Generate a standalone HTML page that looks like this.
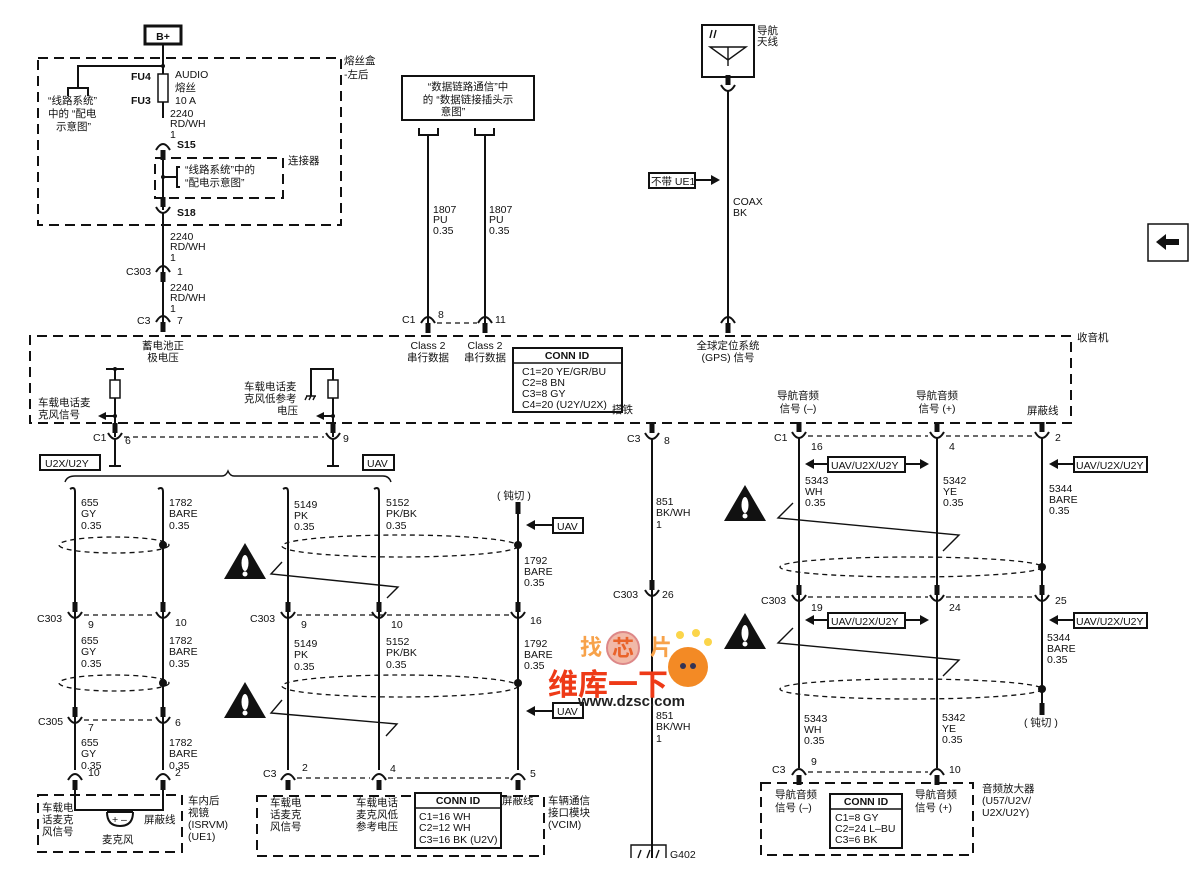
<!DOCTYPE html>
<html><head><meta charset="utf-8"><style>
html,body{margin:0;padding:0;background:#fff}
svg{display:block}
text{font-family:"Liberation Sans","Noto Sans CJK SC",sans-serif;font-size:10.5px;fill:#111}
.d{stroke:#111;stroke-width:2;fill:none;stroke-dasharray:10 6}
.s{stroke:#111;stroke-width:1.3;fill:none;stroke-dasharray:5 4}
.w{stroke:#111;stroke-width:2;fill:none}
.t{stroke:#111;stroke-width:1.4;fill:none}
.bx{stroke:#111;stroke-width:2;fill:#fff}
</style></head><body>
<svg width="1200" height="884" viewBox="0 0 1200 884" xmlns="http://www.w3.org/2000/svg">
<defs>
<g id="cup"><path d="M-7,-5 Q0,7 7,-5" class="w"/><rect x="-2.5" y="-15" width="5" height="10" fill="#111"/></g>
<g id="cap"><path d="M-7,5 Q0,-7 7,5" class="w"/><rect x="-2.5" y="5" width="5" height="10" fill="#111"/></g>
<g id="warn"><path d="M0,0 L21,36 L-21,36Z" fill="#111"/><ellipse cx="0" cy="20" rx="3.5" ry="8" fill="#fff"/><circle cx="0" cy="31" r="2.5" fill="#fff"/></g>
</defs>

<!-- B+ -->
<rect x="145" y="26" width="36" height="18" fill="#fff" stroke="#111" stroke-width="3"/>
<text x="163" y="40" text-anchor="middle" font-weight="bold">B+</text>
<!-- fuse box -->
<path d="M38,58 H341 V225 H38 Z" class="d"/>
<text x="344" y="64">熔丝盒</text><text x="344" y="78">-左后</text>
<line x1="163" y1="44" x2="163" y2="118" class="w"/>
<circle cx="163" cy="66" r="2" fill="#111"/>
<path d="M163,66 H78 V88" class="w"/><path d="M68,96 V88 H88 V96" class="w"/>
<text x="48" y="104">“线路系统”</text><text x="48" y="117">中的 “配电</text><text x="56" y="130">示意图”</text>
<rect x="158" y="74" width="10" height="28" fill="#fff" stroke="#111" stroke-width="1.5"/>
<text x="131" y="80" font-weight="bold">FU4</text><text x="131" y="104" font-weight="bold">FU3</text>
<text x="175" y="78">AUDIO</text><text x="175" y="91">熔丝</text><text x="175" y="104">10 A</text>
<text x="170" y="117">2240</text><text x="170" y="127">RD/WH</text><text x="170" y="138">1</text>
<use href="#cap" x="163" y="145"/><text x="177" y="148" font-weight="bold">S15</text>
<path d="M155,158 H283 V198 H155 Z" class="d"/><text x="288" y="164">连接器</text>
<line x1="163" y1="158" x2="163" y2="210" class="w"/>
<circle cx="163" cy="177" r="2" fill="#111"/><path d="M163,177 H177 M180,167 H177 V187 H180" class="w"/>
<text x="185" y="173">“线路系统”中的</text><text x="185" y="186">“配电示意图”</text>
<use href="#cup" x="163" y="212"/><text x="177" y="216" font-weight="bold">S18</text>
<line x1="163" y1="212" x2="163" y2="330" class="w"/>
<text x="170" y="240">2240</text><text x="170" y="250">RD/WH</text><text x="170" y="261">1</text>
<use href="#cap" x="163" y="267"/><text x="126" y="275">C303</text><text x="177" y="275">1</text>
<text x="170" y="291">2240</text><text x="170" y="301">RD/WH</text><text x="170" y="312">1</text>
<use href="#cap" x="163" y="317"/><text x="137" y="324">C3</text><text x="177" y="324">7</text>

<!-- data link -->
<rect x="402" y="76" width="132" height="44" class="bx"/>
<text x="468" y="90" text-anchor="middle">“数据链路通信”中</text><text x="468" y="103" text-anchor="middle">的 “数据链接插头示</text><text x="453" y="115" text-anchor="middle">意图”</text>
<path d="M419,128 V135 H438 V128 M475,128 V135 H494 V128" class="w"/>
<line x1="428" y1="135" x2="428" y2="330" class="w"/><line x1="485" y1="135" x2="485" y2="330" class="w"/>
<text x="433" y="213">1807</text><text x="433" y="223">PU</text><text x="433" y="234">0.35</text>
<text x="489" y="213">1807</text><text x="489" y="223">PU</text><text x="489" y="234">0.35</text>
<use href="#cap" x="428" y="318"/><use href="#cap" x="485" y="318"/>
<line x1="437" y1="323" x2="477" y2="323" class="s"/>
<text x="402" y="323">C1</text><text x="438" y="318">8</text><text x="495" y="323">11</text>

<!-- antenna -->
<rect x="702" y="25" width="52" height="52" class="bx"/>
<path d="M710,47 L746,47 L728,60 Z M728,47 V66" class="t"/>
<path d="M712,30 l-2,8 M716,30 l-2,8" class="t"/>
<text x="757" y="34">导航</text><text x="757" y="45">天线</text>
<use href="#cup" x="728" y="90"/>
<line x1="728" y1="90" x2="728" y2="330" class="w"/>
<rect x="649" y="173" width="46" height="15" class="bx" stroke-width="1.5"/><text x="651" y="185">不带 UE1</text>
<path d="M695,180 H712" class="w"/><path d="M720,180 L711,175 L711,185Z" fill="#111"/>
<text x="733" y="205">COAX</text><text x="733" y="216">BK</text>
<use href="#cap" x="728" y="318"/>

<!-- radio box -->
<path d="M1071,336 H30 V423 H1071 Z" class="d"/>
<text x="1077" y="341">收音机</text>
<text x="163" y="349" text-anchor="middle">蓄电池正</text><text x="163" y="361" text-anchor="middle">极电压</text>
<text x="428" y="349" text-anchor="middle">Class 2</text><text x="428" y="361" text-anchor="middle">串行数据</text>
<text x="485" y="349" text-anchor="middle">Class 2</text><text x="485" y="361" text-anchor="middle">串行数据</text>
<text x="728" y="349" text-anchor="middle">全球定位系统</text><text x="728" y="361" text-anchor="middle">(GPS) 信号</text>
<rect x="513" y="348" width="109" height="64" class="bx"/><line x1="513" y1="363" x2="622" y2="363" stroke="#111" stroke-width="1.5"/>
<text x="567" y="359" text-anchor="middle" font-weight="bold">CONN ID</text>
<text x="522" y="375">C1=20 YE/GR/BU</text><text x="522" y="386">C2=8 BN</text><text x="522" y="397">C3=8 GY</text><text x="522" y="408">C4=20 (U2Y/U2X)</text>
<!-- mic circuits in radio -->
<path d="M106,369 H124 M115,369 V380 M115,398 V437" class="w"/><circle cx="115" cy="369" r="2" fill="#111"/>
<rect x="110" y="380" width="10" height="18" fill="#fff" stroke="#111" stroke-width="1.5"/>
<circle cx="115" cy="416" r="2" fill="#111"/><path d="M115,416 H104" class="w"/><path d="M98,416 L106,412 L106,420Z" fill="#111"/>
<text x="38" y="406">车载电话麦</text><text x="38" y="418">克风信号</text>
<path d="M311,396 V369 H333 V380 M333,398 V437" class="w"/>
<path d="M306,396 H316 M307,396 l-2,4 M311,396 l-2,4 M315,396 l-2,4" class="t"/>
<rect x="328" y="380" width="10" height="18" fill="#fff" stroke="#111" stroke-width="1.5"/>
<circle cx="333" cy="416" r="2" fill="#111"/><path d="M333,416 H322" class="w"/><path d="M316,416 L324,412 L324,420Z" fill="#111"/>
<text x="244" y="390">车载电话麦</text><text x="244" y="402">克风低参考</text><text x="277" y="414">电压</text>
<text x="612" y="413">搭铁</text>
<text x="798" y="399" text-anchor="middle">导航音频</text><text x="798" y="412" text-anchor="middle">信号 (–)</text>
<text x="937" y="399" text-anchor="middle">导航音频</text><text x="937" y="412" text-anchor="middle">信号 (+)</text>
<text x="1027" y="414">屏蔽线</text>

<!-- left C1 -->
<use href="#cup" x="115" y="438"/><use href="#cup" x="333" y="438"/>
<line x1="124" y1="437" x2="324" y2="437" class="s"/>
<text x="93" y="441">C1</text><text x="125" y="444">6</text><text x="343" y="442">9</text>
<path d="M115,438 V466 M109,466 H121 M333,438 V466 M327,466 H339" class="w"/>
<rect x="40" y="455" width="60" height="15" class="bx" stroke-width="1.5"/><text x="45" y="467">U2X/U2Y</text>
<rect x="363" y="455" width="31" height="15" class="bx" stroke-width="1.5"/><text x="367" y="467">UAV</text>
<path d="M65,482 Q67,476 75,476 H222 Q226,476 228,471 Q230,476 234,476 H383 Q389,476 391,482" class="t"/>

<!-- left wires -->
<g class="w">
<path d="M70,489 Q75,486 75,492 V770"/><path d="M158,489 Q163,486 163,492 V770"/>
<path d="M283,489 Q288,486 288,492 V770"/><path d="M374,489 Q379,486 379,492 V770"/>
<path d="M518,503 V770"/>
</g>
<rect x="515.5" y="502" width="5" height="12" fill="#111"/>
<text x="497" y="499">( 钝切 )</text>
<path d="M534,525 H552" class="w"/><path d="M526,525 L535,520 L535,530Z" fill="#111"/>
<rect x="553" y="518" width="30" height="15" class="bx" stroke-width="1.5"/><text x="557" y="530">UAV</text>
<path d="M534,711 H552" class="w"/><path d="M526,711 L535,706 L535,716Z" fill="#111"/>
<rect x="553" y="703" width="30" height="15" class="bx" stroke-width="1.5"/><text x="557" y="715">UAV</text>

<g>
<text x="81" y="506">655</text><text x="81" y="517">GY</text><text x="81" y="529">0.35</text>
<text x="169" y="506">1782</text><text x="169" y="517">BARE</text><text x="169" y="529">0.35</text>
<text x="294" y="508">5149</text><text x="294" y="519">PK</text><text x="294" y="530">0.35</text>
<text x="386" y="506">5152</text><text x="386" y="517">PK/BK</text><text x="386" y="529">0.35</text>
<text x="524" y="564">1792</text><text x="524" y="575">BARE</text><text x="524" y="586">0.35</text>
</g>
<ellipse cx="114" cy="545" rx="55" ry="8" class="s"/>
<ellipse cx="400" cy="546" rx="118" ry="11" class="s"/>
<circle cx="163" cy="545" r="4" fill="#111"/><circle cx="518" cy="545" r="4" fill="#111"/>
<use href="#warn" x="245" y="543"/>
<path d="M282,562 L271,574 L398,587 L387,598" class="t"/>

<!-- C303 left -->
<g><use href="#cup" x="75" y="617"/><use href="#cup" x="163" y="617"/><use href="#cup" x="288" y="617"/><use href="#cup" x="379" y="617"/><use href="#cup" x="518" y="617"/></g>
<line x1="84" y1="615" x2="154" y2="615" class="s"/><line x1="297" y1="615" x2="510" y2="615" class="s"/>
<text x="37" y="622">C303</text><text x="88" y="628">9</text><text x="175" y="626">10</text>
<text x="250" y="622">C303</text><text x="301" y="628">9</text><text x="391" y="628">10</text><text x="530" y="624">16</text>
<text x="81" y="644">655</text><text x="81" y="655">GY</text><text x="81" y="667">0.35</text>
<text x="169" y="644">1782</text><text x="169" y="655">BARE</text><text x="169" y="667">0.35</text>
<text x="294" y="647">5149</text><text x="294" y="658">PK</text><text x="294" y="670">0.35</text>
<text x="386" y="645">5152</text><text x="386" y="656">PK/BK</text><text x="386" y="668">0.35</text>
<text x="524" y="647">1792</text><text x="524" y="658">BARE</text><text x="524" y="669">0.35</text>
<ellipse cx="114" cy="683" rx="55" ry="8" class="s"/>
<ellipse cx="400" cy="686" rx="118" ry="11" class="s"/>
<circle cx="163" cy="683" r="4" fill="#111"/><circle cx="518" cy="683" r="4" fill="#111"/>
<use href="#warn" x="245" y="682"/>
<path d="M282,700 L271,713 L397,724 L386,736" class="t"/>
<!-- C305 -->
<use href="#cup" x="75" y="722"/><use href="#cup" x="163" y="722"/>
<line x1="84" y1="720" x2="154" y2="720" class="s"/>
<text x="38" y="725">C305</text><text x="88" y="731">7</text><text x="175" y="726">6</text>
<text x="81" y="746">655</text><text x="81" y="757">GY</text><text x="81" y="769">0.35</text>
<text x="169" y="746">1782</text><text x="169" y="757">BARE</text><text x="169" y="769">0.35</text>
<!-- C3 left -->
<use href="#cap" x="75" y="775"/><use href="#cap" x="163" y="775"/>
<use href="#cap" x="288" y="775"/><use href="#cap" x="379" y="775"/><use href="#cap" x="518" y="775"/>
<text x="88" y="776">10</text><text x="175" y="776">2</text>
<text x="263" y="777">C3</text><text x="302" y="771">2</text><text x="390" y="772">4</text><text x="530" y="777">5</text>
<line x1="297" y1="778" x2="370" y2="778" class="s"/><line x1="388" y1="778" x2="509" y2="778" class="s"/>
<!-- ISRVM box -->
<path d="M38,795 H182 V852 H38 Z" class="d"/>
<path d="M75,790 V810 H124 M163,790 V810 H116" class="w"/>
<path d="M108,810 V812 H132 V810 M107,812 Q107,826 120,826 Q133,826 133,812" class="w"/>
<text x="112" y="823" font-size="8">+ –</text>
<text x="42" y="811">车载电</text><text x="42" y="823">话麦克</text><text x="42" y="835">风信号</text>
<text x="144" y="823">屏蔽线</text><text x="102" y="843">麦克风</text>
<text x="188" y="804">车内后</text><text x="188" y="816">视镜</text><text x="188" y="828">(ISRVM)</text><text x="188" y="840">(UE1)</text>
<!-- VCIM box -->
<path d="M257,796 H544 V856 H257 Z" class="d"/>
<text x="270" y="806">车载电</text><text x="270" y="818">话麦克</text><text x="270" y="830">风信号</text>
<text x="356" y="806">车载电话</text><text x="356" y="818">麦克风低</text><text x="356" y="830">参考电压</text>
<rect x="415" y="793" width="86" height="55" class="bx"/><line x1="415" y1="808" x2="501" y2="808" stroke="#111" stroke-width="1.5"/>
<text x="458" y="804" text-anchor="middle" font-weight="bold">CONN ID</text>
<text x="419" y="820">C1=16 WH</text><text x="419" y="831">C2=12 WH</text><text x="419" y="843">C3=16 BK (U2V)</text>
<text x="502" y="804">屏蔽线</text>
<text x="548" y="804">车辆通信</text><text x="548" y="816">接口模块</text><text x="548" y="828">(VCIM)</text>

<!-- ground -->
<use href="#cup" x="652" y="438"/><text x="627" y="442">C3</text><text x="664" y="444">8</text>
<line x1="652" y1="438" x2="652" y2="858" class="w"/>
<text x="656" y="505">851</text><text x="656" y="516">BK/WH</text><text x="656" y="528">1</text>
<use href="#cup" x="652" y="595"/><text x="613" y="598">C303</text><text x="662" y="598">26</text>
<text x="656" y="719">851</text><text x="656" y="730">BK/WH</text><text x="656" y="742">1</text>
<path d="M631,858 V845 H666 V858 M638,858 l3,-8 M647,858 l3,-8 M656,858 l3,-8" class="t"/>
<text x="670" y="858">G402</text>

<!-- right side -->
<g><use href="#cup" x="799" y="437"/><use href="#cup" x="937" y="437"/><use href="#cup" x="1042" y="437"/></g>
<line x1="808" y1="436" x2="928" y2="436" class="s"/><line x1="946" y1="436" x2="1033" y2="436" class="s"/>
<text x="774" y="441">C1</text><text x="811" y="450">16</text><text x="949" y="450">4</text><text x="1055" y="441">2</text>
<line x1="799" y1="437" x2="799" y2="768" class="w"/><line x1="937" y1="437" x2="937" y2="768" class="w"/><line x1="1042" y1="437" x2="1042" y2="705" class="w"/>
<rect x="1039.5" y="703" width="5" height="12" fill="#111"/><text x="1024" y="726">( 钝切 )</text>
<g id="bid">
<path d="M812,464 H828 M905,464 H922" class="w"/><path d="M805,464 L814,459 L814,469Z M929,464 L920,459 L920,469Z" fill="#111"/>
<rect x="828" y="457" width="77" height="15" class="bx" stroke-width="1.5"/><text x="831" y="469">UAV/U2X/U2Y</text>
</g>
<use href="#bid" x="0" y="156"/>
<path d="M1056,464 H1074" class="w"/><path d="M1049,464 L1058,459 L1058,469Z" fill="#111"/>
<rect x="1074" y="457" width="73" height="15" class="bx" stroke-width="1.5"/><text x="1076" y="469">UAV/U2X/U2Y</text>
<path d="M1056,620 H1074" class="w"/><path d="M1049,620 L1058,615 L1058,625Z" fill="#111"/>
<rect x="1074" y="613" width="73" height="15" class="bx" stroke-width="1.5"/><text x="1076" y="625">UAV/U2X/U2Y</text>
<text x="805" y="484">5343</text><text x="805" y="495">WH</text><text x="805" y="506">0.35</text>
<text x="943" y="484">5342</text><text x="943" y="495">YE</text><text x="943" y="506">0.35</text>
<text x="1049" y="492">5344</text><text x="1049" y="503">BARE</text><text x="1049" y="514">0.35</text>
<use href="#warn" x="745" y="485"/>
<path d="M793,503 L778,518 L959,535 L943,551" class="t"/>
<ellipse cx="911" cy="567" rx="131" ry="10" class="s"/><circle cx="1042" cy="567" r="4" fill="#111"/>
<g><use href="#cup" x="799" y="600"/><use href="#cup" x="937" y="600"/><use href="#cup" x="1042" y="600"/></g>
<line x1="808" y1="597" x2="928" y2="597" class="s"/><line x1="946" y1="597" x2="1033" y2="597" class="s"/>
<text x="761" y="604">C303</text><text x="811" y="611">19</text><text x="949" y="611">24</text><text x="1055" y="604">25</text>
<text x="1047" y="641">5344</text><text x="1047" y="652">BARE</text><text x="1047" y="663">0.35</text>
<use href="#warn" x="745" y="613"/>
<path d="M793,628 L778,643 L959,660 L943,676" class="t"/>
<ellipse cx="911" cy="689" rx="131" ry="10" class="s"/><circle cx="1042" cy="689" r="4" fill="#111"/>
<text x="804" y="722">5343</text><text x="804" y="733">WH</text><text x="804" y="744">0.35</text>
<text x="942" y="721">5342</text><text x="942" y="732">YE</text><text x="942" y="743">0.35</text>
<use href="#cap" x="799" y="770"/><use href="#cap" x="937" y="770"/>
<line x1="808" y1="772" x2="928" y2="772" class="s"/>
<text x="772" y="773">C3</text><text x="811" y="765">9</text><text x="949" y="773">10</text>
<path d="M761,783 H973 V855 H761 Z" class="d"/>
<text x="775" y="798">导航音频</text><text x="775" y="811">信号 (–)</text>
<text x="915" y="798">导航音频</text><text x="915" y="811">信号 (+)</text>
<rect x="830" y="794" width="72" height="54" class="bx"/><line x1="830" y1="809" x2="902" y2="809" stroke="#111" stroke-width="1.5"/>
<text x="866" y="805" text-anchor="middle" font-weight="bold">CONN ID</text>
<text x="835" y="821">C1=8 GY</text><text x="835" y="832">C2=24 L–BU</text><text x="835" y="843">C3=6 BK</text>
<text x="982" y="792">音频放大器</text><text x="982" y="804">(U57/U2V/</text><text x="982" y="816">U2X/U2Y)</text>

<!-- nav arrow button -->
<rect x="1148" y="224" width="40" height="37" fill="#fff" stroke="#111" stroke-width="1.5"/>
<path d="M1156,242 L1166,234 L1166,239 H1179 V245 H1166 V250 Z" fill="#111"/>

<!-- watermark -->
<text x="580" y="655" style="font-size:22px;font-weight:bold;fill:#f7a24a">找</text>
<circle cx="623" cy="648" r="16" fill="#f1b9a8" stroke="#d88" stroke-width="2"/>
<text x="612" y="656" style="font-size:22px;font-weight:bold;fill:#e9632b">芯</text>
<text x="650" y="655" style="font-size:22px;font-weight:bold;fill:#f7a24a">片</text>
<text x="548" y="695" style="font-size:30px;font-weight:bold;fill:#ee3a17">维库一下</text>
<text x="578" y="706" style="font-size:15px;font-weight:bold;fill:#222">www.dzsc.com</text>
<circle cx="688" cy="667" r="20" fill="#f38a25"/>
<circle cx="683" cy="666" r="3" fill="#335"/><circle cx="693" cy="666" r="3" fill="#335"/>
<circle cx="680" cy="635" r="4" fill="#fbd54a"/><circle cx="696" cy="633" r="4" fill="#fbd54a"/><circle cx="708" cy="642" r="4" fill="#fbd54a"/>
</svg>
</body></html>
